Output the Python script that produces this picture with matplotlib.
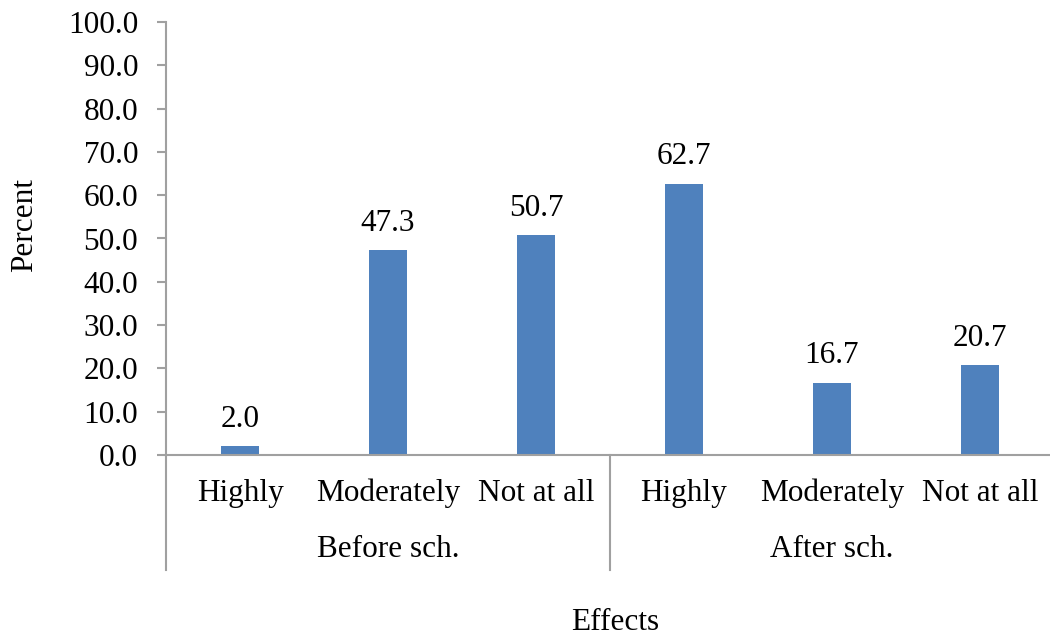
import matplotlib.pyplot as plt
import numpy as np

plt.rcParams['font.family'] = ['Liberation Serif', 'DejaVu Serif']

# Data
kategori = ['Highly', 'Moderately', 'Not at all', 'Highly', 'Moderately', 'Not at all']
grup = ['Before sch.', 'After sch.']
persen = [2.0, 47.3, 50.7, 62.7, 16.7, 20.7]
yticks = np.arange(0, 101, 10)

warna_bar = '#4F81BD'
warna_garis = '#A0A0A0'
fs = 22.5

fig = plt.figure(figsize=(10.5, 6.36), dpi=100)
ax = fig.add_axes([0.1581, 0.2846, 0.8457, 0.6808])

x = np.arange(len(kategori))
bars = ax.bar(x, persen, width=0.257, color=warna_bar, zorder=2)

# Label nilai di atas tiap batang
for xi, v in zip(x, persen):
    ax.annotate(f'{v:.1f}', (xi, v), xytext=(0, 9), textcoords='offset points',
                ha='center', va='bottom', fontsize=fs)

ax.set_xlim(-0.5, 5.5)
ax.set_ylim(0, 100)
ax.set_yticks(yticks)
ax.set_yticklabels([f'{t:.1f}' for t in yticks], fontsize=fs)
ax.tick_params(axis='y', length=6.5, width=1.5, color=warna_garis, pad=13.5)
ax.set_xticks([])

for s in ['top', 'right']:
    ax.spines[s].set_visible(False)
for s in ['left', 'bottom']:
    ax.spines[s].set_color(warna_garis)
    ax.spines[s].set_linewidth(1.5)

trans = ax.get_xaxis_transform()
# Label kategori dan grup di bawah sumbu
for xi, k in zip(x, kategori):
    ax.text(xi, -0.088, k, transform=trans, ha='center', va='center', fontsize=fs)
for i, g in enumerate(grup):
    ax.text(1 + 3 * i, -0.219, g, transform=trans, ha='center', va='center', fontsize=fs)

# Garis pemisah grup
for xs in [-0.5, 2.5]:
    ax.plot([xs, xs], [0, -0.266], transform=trans, color=warna_garis,
            linewidth=1.5, clip_on=False)

ax.text(2.534, -0.386, 'Effects', transform=trans, ha='center', va='center', fontsize=fs)
fig.text(0.0238, 0.646, 'Percent', rotation=90, ha='center', va='center', fontsize=fs)

fig.savefig('out.png', dpi=100)
